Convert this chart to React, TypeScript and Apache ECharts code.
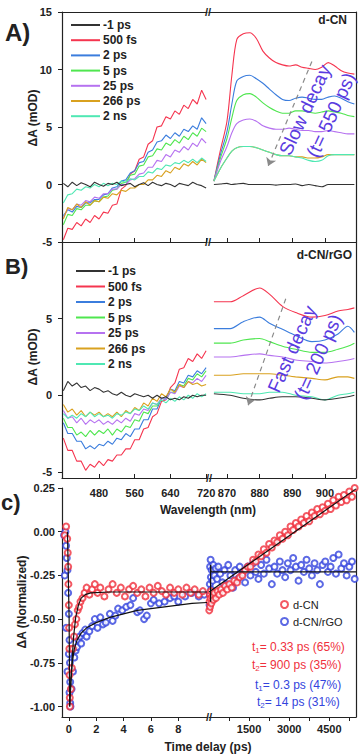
import React, { useEffect, useRef } from "react";
import * as echarts from "echarts";

const names = ["-1 ps", "500 fs", "2 ps", "5 ps", "25 ps", "266 ps", "2 ns"];
const colors = ["#333333", "#f5354f", "#3b7ddd", "#4fe64f", "#b672f0", "#d9a11f", "#4fe8b3"];

const wlLeft = [400,410,420,430,440,450,460,470,480,490,500,510,520,530,540,550,560,570,580,590,600,610,620,630,640,650,660,670,680,690,700,710,720];
const aWlRight = [866,868,870,871.5,873,875,877,879,881,883,885,887,889,891,893,895,897,899,901,903,905,907,909];
const bWlRight = [866,871,875,880,883,887,891,896,900,904,907,909];

// Panel A (d-CN), left part
const aBlackL = [0.1,-0.2,0.2,-0.1,0.15,0.0,-0.2,0.2,0.0,-0.15,0.1,0.0,0.2,-0.1,0.0,0.1,-0.2,0.0,0.15,-0.1,0.2,0.0,-0.1,0.1,0.0,-0.2,0.1,0.0,-0.1,0.2,0.0,-0.1,-0.3];
const aRedL = [-4.8,-3.8,-3.9,-3.3,-3.6,-3.0,-3.3,-2.7,-3.0,-2.4,-2.5,-1.8,-1.7,-0.4,-0.1,0.9,1.2,2.2,2.4,3.5,3.8,5.0,5.1,5.9,5.7,6.4,6.1,6.9,6.6,7.4,7.0,8.2,7.4];
const aBlueL = [-2.7,-2.2,-2.4,-1.9,-2.0,-1.6,-1.6,-1.3,-1.3,-0.9,-0.8,-0.3,-0.2,0.3,0.4,1.0,1.2,1.9,2.0,2.8,3.0,3.7,3.8,4.3,4.0,4.5,4.2,4.8,4.6,5.1,4.8,5.8,5.3];
const aGreenL = [-3.5,-2.6,-2.7,-2.1,-2.2,-1.8,-1.8,-1.4,-1.5,-1.1,-1.0,-0.5,-0.4,0.1,0.2,0.8,0.9,1.6,1.7,2.4,2.5,3.1,3.0,3.6,3.4,3.9,3.6,4.2,3.9,4.5,4.2,4.9,4.6];
const aPurpleL = [-2.9,-2.1,-2.2,-1.7,-1.8,-1.4,-1.5,-1.1,-1.2,-0.8,-0.8,-0.4,-0.4,0.0,0.0,0.4,0.5,0.9,1.0,1.5,1.5,2.1,2.0,2.6,2.4,3.0,2.8,3.3,3.0,3.6,3.3,4.0,3.6];
const aOrangeL = [-3.0,-2.0,-2.2,-1.7,-2.0,-1.5,-1.8,-1.4,-1.5,-1.1,-1.2,-0.8,-0.9,-0.5,-0.6,-0.3,-0.3,0.0,0.0,0.4,0.4,0.8,0.7,1.2,1.0,1.5,1.3,1.8,1.6,2.0,1.7,2.2,1.9];
const aCyanL = [-1.6,-0.9,-0.8,-0.4,-0.5,-0.2,-0.3,0.0,-0.2,0.1,-0.1,0.1,0.0,0.3,0.2,0.5,0.4,0.7,0.7,1.1,1.0,1.4,1.3,1.7,1.6,1.9,1.8,2.1,1.9,2.2,1.9,2.3,2.0];

// Panel A right part
const aBlackR = [0.0,0.05,0.1,0.0,0.05,0.1,0.0,0.0,0.0,0.0,-0.05,0.0,0.0,0.05,-0.1,0.0,-0.1,-0.2,0.0,0.0,0.0,0.0,0.0];
const aRedR = [0.3,3.0,5.5,9.5,12.6,13.1,13.2,12.7,11.6,11.0,10.6,10.4,10.3,10.4,10.2,10.1,10.0,10.2,10.6,10.3,9.9,9.7,9.6];
const aBlueR = [0.3,2.6,4.6,7.0,9.0,9.4,9.5,9.2,8.8,8.3,7.8,7.4,7.3,7.5,7.6,7.5,7.4,7.4,7.6,7.7,7.5,7.2,7.0];
const aGreenR = [0.3,2.3,4.0,5.8,7.3,7.8,7.9,7.6,7.1,6.7,6.4,6.2,6.2,6.4,6.4,6.3,6.2,6.3,6.4,6.3,6.2,6.0,5.9];
const aPurpleR = [0.3,2.0,3.3,4.5,5.3,5.6,5.7,5.5,5.1,4.9,4.8,4.8,4.9,4.8,4.7,4.7,4.6,4.6,4.7,4.6,4.5,4.4,4.4];
const aOrangeR = [0.3,1.4,2.3,2.9,3.2,3.3,3.3,3.2,3.0,2.8,2.6,2.5,2.5,2.4,2.4,2.3,2.3,2.4,2.6,2.6,2.6,2.6,2.6];
const aCyanR = [0.3,1.4,2.3,2.9,3.2,3.3,3.3,3.2,3.0,2.8,2.6,2.5,2.5,2.4,2.3,2.1,2.0,2.1,2.5,2.6,2.6,2.6,2.6];

// Panel B (d-CN/rGO), left part
const bBlackL = [0.3,0.9,0.6,0.8,0.5,0.6,0.3,0.5,0.4,0.2,0.3,0.1,0.0,0.2,0.0,-0.1,0.1,0.0,-0.1,0.0,-0.2,0.0,-0.2,-0.1,-0.3,-0.2,-0.3,-0.1,-0.2,0.0,-0.1,0.0,0.0];
const bRedL = [-2.8,-3.6,-3.6,-4.3,-4.3,-4.9,-4.5,-4.7,-4.3,-4.6,-4.2,-4.3,-3.9,-3.9,-3.5,-3.5,-2.9,-2.9,-2.2,-2.1,-1.4,-1.2,-0.4,-0.3,0.5,0.8,1.7,1.8,2.4,2.2,2.7,2.4,2.9];
const bBlueL = [-1.8,-2.5,-2.5,-3.0,-3.0,-3.5,-3.3,-3.5,-3.2,-3.3,-3.0,-3.2,-2.8,-2.9,-2.5,-2.7,-2.2,-2.2,-1.6,-1.6,-0.9,-0.9,-0.2,-0.2,0.4,0.3,0.9,0.8,1.3,1.2,1.6,1.4,1.8];
const bGreenL = [-1.5,-2.1,-2.1,-2.6,-2.4,-2.7,-2.3,-2.6,-2.3,-2.5,-2.2,-2.6,-2.2,-2.4,-2.0,-2.1,-1.6,-1.7,-1.1,-1.2,-0.7,-0.7,-0.2,-0.3,0.2,0.2,0.7,0.6,1.1,1.0,1.4,1.2,1.6];
const bPurpleL = [-1.0,-1.5,-1.4,-1.8,-1.5,-1.9,-1.6,-1.8,-1.6,-1.9,-1.7,-1.9,-1.6,-1.8,-1.5,-1.7,-1.2,-1.3,-0.9,-1.0,-0.5,-0.6,-0.2,-0.3,0.2,0.1,0.6,0.5,0.9,0.8,1.1,0.9,1.3];
const bOrangeL = [-0.6,-1.1,-0.9,-1.3,-1.0,-1.4,-1.1,-1.3,-1.1,-1.4,-1.2,-1.4,-1.1,-1.4,-1.0,-1.2,-0.8,-1.0,-0.5,-0.7,-0.2,-0.4,0.1,-0.1,0.4,0.2,0.7,0.5,0.9,0.7,0.8,0.6,0.7];
const bCyanL = [-1.2,-1.5,-1.3,-1.5,-1.2,-1.4,-1.1,-1.4,-1.2,-1.4,-1.3,-1.5,-1.2,-1.3,-1.1,-1.2,-0.9,-1.0,-0.7,-0.9,-0.5,-0.6,-0.3,-0.5,-0.2,-0.4,-0.1,-0.3,0.0,-0.2,0.1,-0.1,0.1];

// Panel B right part
const bBlackR = [0.1,0.0,-0.2,-0.3,-0.2,-0.1,-0.1,-0.2,-0.3,-0.2,-0.1,0.0];
const bRedR = [6.1,6.1,6.5,7.0,6.6,5.8,5.4,5.1,5.2,5.5,5.6,5.7];
const bBlueR = [4.35,4.35,4.8,5.1,4.7,4.3,3.9,3.5,3.6,4.0,4.5,4.1];
const bGreenR = [3.4,3.4,3.6,3.7,3.5,3.2,3.0,2.8,2.8,3.0,3.2,3.4];
const bPurpleR = [2.5,2.5,2.6,2.7,2.6,2.5,2.3,2.2,2.1,2.2,2.3,2.4];
const bOrangeR = [1.3,1.3,1.4,1.4,1.4,1.3,1.2,1.1,1.0,1.2,1.2,1.1];
const bCyanR = [0.2,0.2,0.1,0.1,0.2,0.2,0.0,-0.1,-0.3,0.0,0.1,0.2];

// Panel C kinetics: [time (ps), normalized dA]
const cRedLeft = [[-0.3,-0.02],[-0.2,0.03],[-0.12,-0.04],[-0.08,-0.12],[-0.05,-0.2],[-0.03,-0.3],[0.0,-0.42],[0.02,-0.55],[0.04,-0.67],[0.05,-0.82],[0.07,-0.95],[0.08,-1.0],[0.15,-0.9],[0.22,-0.78],[0.3,-0.67],[0.38,-0.6],[0.45,-0.53],[0.55,-0.5],[0.65,-0.45],[0.75,-0.43],[0.85,-0.4],[1.0,-0.38],[1.15,-0.35],[1.3,-0.32],[1.5,-0.36],[1.7,-0.33],[1.9,-0.3],[2.1,-0.35],[2.3,-0.32],[2.6,-0.37],[2.9,-0.33],[3.2,-0.3],[3.5,-0.35],[3.8,-0.32],[4.1,-0.37],[4.4,-0.33],[4.7,-0.31],[5.0,-0.35],[5.3,-0.33],[5.6,-0.37],[5.9,-0.32],[6.2,-0.35],[6.5,-0.31],[6.8,-0.34],[7.1,-0.36],[7.4,-0.32],[7.7,-0.35],[8.0,-0.33],[8.3,-0.36],[8.6,-0.32],[8.9,-0.35],[9.2,-0.33],[9.5,-0.36],[9.8,-0.34]];
const cBlueLeft = [[-0.35,-0.02],[-0.25,0.0],[-0.2,-0.08],[-0.15,-0.15],[-0.3,-0.25],[-0.1,-0.22],[-0.05,-0.35],[0.0,-0.47],[-0.2,-0.55],[0.05,-0.62],[0.0,-0.7],[0.08,-0.75],[-0.1,-0.8],[0.1,-0.86],[0.05,-0.92],[0.1,-0.98],[0.12,-1.0],[0.2,-0.9],[0.3,-0.8],[0.4,-0.72],[0.5,-0.68],[0.6,-0.66],[0.7,-0.62],[0.8,-0.6],[0.9,-0.64],[1.0,-0.58],[1.2,-0.56],[1.3,-0.6],[1.5,-0.57],[1.7,-0.54],[1.9,-0.5],[2.1,-0.55],[2.3,-0.49],[2.5,-0.53],[2.7,-0.52],[3.0,-0.47],[3.2,-0.51],[3.4,-0.48],[3.6,-0.44],[3.9,-0.45],[4.2,-0.43],[4.5,-0.42],[4.7,-0.38],[5.0,-0.46],[5.2,-0.45],[5.5,-0.5],[5.7,-0.48],[6.0,-0.41],[6.2,-0.39],[6.6,-0.41],[7.0,-0.4],[7.4,-0.38],[7.7,-0.37],[8.0,-0.4],[8.5,-0.37],[9.0,-0.35],[9.5,-0.37],[9.9,-0.36]];
const cRedRight = [[10,-0.45],[20,-0.4],[30,-0.36],[40,-0.43],[55,-0.38],[70,-0.34],[90,-0.41],[120,-0.37],[160,-0.39],[200,-0.35],[260,-0.38],[320,-0.34],[380,-0.36],[450,-0.33],[520,-0.35],[600,-0.31],[680,-0.33],[760,-0.3],[850,-0.32],[950,-0.28],[1050,-0.29],[1150,-0.26],[1250,-0.25],[1350,-0.22],[1450,-0.2],[1550,-0.2],[1650,-0.16],[1750,-0.17],[1850,-0.13],[1950,-0.14],[2050,-0.1],[2150,-0.12],[2250,-0.07],[2350,-0.09],[2450,-0.05],[2550,-0.06],[2650,-0.02],[2750,-0.04],[2850,0.0],[2950,-0.02],[3050,0.03],[3150,0.01],[3250,0.05],[3350,0.03],[3450,0.07],[3550,0.05],[3650,0.09],[3750,0.06],[3850,0.11],[3950,0.09],[4050,0.13],[4150,0.1],[4250,0.14],[4350,0.12],[4450,0.16],[4550,0.13],[4650,0.18],[4750,0.15],[4850,0.2],[4950,0.17],[5050,0.21],[5150,0.18],[5250,0.23],[5350,0.2],[5450,0.25]];
const cBlueRight = [[20,-0.42],[30,-0.3],[40,-0.2],[50,-0.36],[60,-0.16],[70,-0.26],[80,-0.33],[100,-0.22],[130,-0.28],[160,-0.19],[200,-0.25],[250,-0.21],[300,-0.27],[350,-0.2],[420,-0.24],[500,-0.29],[580,-0.22],[650,-0.3],[720,-0.19],[800,-0.25],[900,-0.32],[980,-0.22],[1080,-0.27],[1150,-0.2],[1250,-0.24],[1350,-0.29],[1450,-0.2],[1550,-0.25],[1650,-0.18],[1750,-0.23],[1850,-0.27],[1950,-0.19],[2050,-0.24],[2150,-0.16],[2250,-0.21],[2350,-0.3],[2450,-0.2],[2550,-0.24],[2650,-0.17],[2750,-0.22],[2850,-0.26],[2950,-0.18],[3050,-0.22],[3150,-0.15],[3250,-0.2],[3350,-0.28],[3450,-0.19],[3550,-0.23],[3650,-0.16],[3750,-0.21],[3850,-0.25],[3950,-0.18],[4050,-0.22],[4150,-0.3],[4250,-0.19],[4350,-0.17],[4450,-0.23],[4550,-0.2],[4650,-0.15],[4750,-0.24],[4850,-0.13],[4950,-0.21],[5050,-0.18],[5150,-0.25],[5250,-0.2],[5350,-0.17],[5450,-0.27]];
const cRedFitLeft = [[-0.1,0.0],[0.02,-0.5],[0.06,-1.0],[0.15,-0.86],[0.25,-0.72],[0.35,-0.6],[0.5,-0.49],[0.7,-0.42],[0.9,-0.38],[1.2,-0.36],[1.6,-0.35],[3,-0.345],[6,-0.345],[10.1,-0.345]];
const cBlueFitLeft = [[0.06,-1.0],[0.15,-0.85],[0.25,-0.75],[0.4,-0.67],[0.6,-0.62],[0.9,-0.58],[1.3,-0.55],[2,-0.52],[3,-0.49],[4,-0.47],[5,-0.45],[6,-0.44],[7,-0.43],[8,-0.42],[9,-0.41],[10.1,-0.405]];
const cRedFitRight = [[0,-0.345],[5500,0.245]];
const cBlueFitRight = [[60,-0.4],[60,-0.19],[80,-0.23],[5500,-0.23]];

const aLeft = [aBlackL, aRedL, aBlueL, aGreenL, aPurpleL, aOrangeL, aCyanL];
const aRight = [aBlackR, aRedR, aBlueR, aGreenR, aPurpleR, aOrangeR, aCyanR];
const bLeft = [bBlackL, bRedL, bBlueL, bGreenL, bPurpleL, bOrangeL, bCyanL];
const bRight = [bBlackR, bRedR, bBlueR, bGreenR, bPurpleR, bOrangeR, bCyanR];

const FONT = "Liberation Sans, Arial, sans-serif";
const AX = "#222222";
const RED = "#f0303c";
const BLUE = "#3344dd";
const ANNO = "#5a3be0";

function spectra(wl: number[], sets: number[][], xi: number, yi: number, smooth: number | boolean) {
  return sets.map((vals, k) => ({
    type: "line",
    name: names[k],
    xAxisIndex: xi,
    yAxisIndex: yi,
    data: wl.map((w, i) => [w, vals[i]]),
    symbol: "none",
    smooth,
    lineStyle: { width: 1.1, color: colors[k] },
    itemStyle: { color: colors[k] },
    z: k === 0 ? 3 : 2,
  }));
}

function xAx(grid: number, min: number, max: number, opts: any = {}) {
  return {
    type: "value",
    gridIndex: grid,
    min,
    max,
    position: opts.position || "bottom",
    splitLine: { show: false },
    axisLine: { show: true, onZero: false, lineStyle: { color: AX, width: 1.2 } },
    axisTick: opts.ticks
      ? { show: true, inside: !!opts.inside, length: 4, customValues: opts.ticks, lineStyle: { color: AX } }
      : { show: false },
    axisLabel: opts.labels
      ? {
          show: true,
          customValues: opts.labels,
          fontSize: 11,
          fontWeight: "bold",
          color: AX,
          fontFamily: FONT,
          margin: opts.margin || 8,
          formatter: (v: number) => String(v),
        }
      : { show: false },
  };
}

function yAx(grid: number, min: number, max: number, opts: any = {}) {
  return {
    type: "value",
    gridIndex: grid,
    min,
    max,
    position: opts.position || "left",
    splitLine: { show: false },
    axisLine: { show: true, onZero: false, lineStyle: { color: AX, width: 1.2 } },
    axisTick: opts.labels
      ? { show: true, inside: false, length: 4, customValues: opts.labels, lineStyle: { color: AX } }
      : { show: false },
    axisLabel: opts.labels
      ? {
          show: true,
          customValues: opts.labels,
          fontSize: 11,
          fontWeight: "bold",
          color: AX,
          fontFamily: FONT,
          margin: opts.margin || 8,
          formatter: opts.formatter || ((v: number) => String(v)),
        }
      : { show: false },
  };
}

function txt(text: string, x: number, y: number, o: any = {}) {
  return {
    type: "text",
    x,
    y,
    rotation: o.rotation || 0,
    z: 100,
    style: {
      text,
      fontSize: o.fontSize || 12,
      fontWeight: o.fontWeight || "bold",
      fontFamily: FONT,
      fill: o.fill || AX,
      align: o.align || "center",
      verticalAlign: o.verticalAlign || "middle",
      rich: o.rich,
    },
  };
}

const tauRich = (c: string) => ({
  s: { fontSize: 8, fill: c, fontFamily: FONT, verticalAlign: "bottom", padding: [7, 0, 0, 0] },
});

export default function App() {
  const ref = useRef<HTMLDivElement>(null);
  useEffect(() => {
    document.body.style.margin = "0";
    if (!ref.current) return;
    const chart = echarts.init(ref.current, undefined, { renderer: "svg" });
    const series: any[] = [
      ...spectra(wlLeft, aLeft, 0, 0, false),
      ...spectra(aWlRight, aRight, 1, 1, 0.3),
      ...spectra(wlLeft, bLeft, 4, 2, false),
      ...spectra(bWlRight, bRight, 5, 3, 0.3),
    ];
    series.push({
      type: "line",
      xAxisIndex: 1,
      yAxisIndex: 1,
      data: [],
      silent: true,
      markLine: {
        silent: true,
        symbol: ["none", "arrow"],
        symbolSize: 8,
        label: { show: false },
        lineStyle: { type: [5, 4], color: "#8a8a8a", width: 1.2 },
        data: [[{ coord: [896, 10.7] }, { coord: [882.6, 1.6] }]],
      },
    });
    series.push({
      type: "line",
      xAxisIndex: 5,
      yAxisIndex: 3,
      data: [],
      silent: true,
      markLine: {
        silent: true,
        symbol: ["none", "arrow"],
        symbolSize: 8,
        label: { show: false },
        lineStyle: { type: [5, 4], color: "#8a8a8a", width: 1.2 },
        data: [[{ coord: [888, 6.3] }, { coord: [876.5, -0.65] }]],
      },
    });
    const scat = (name: string, data: number[][], xi: number, yi: number, c: string) => ({
      type: "scatter",
      name,
      xAxisIndex: xi,
      yAxisIndex: yi,
      data,
      symbol: "emptyCircle",
      symbolSize: 6,
      itemStyle: { color: c, borderColor: c, borderWidth: 1.2 },
      z: 2,
    });
    const fit = (data: number[][], xi: number, yi: number) => ({
      type: "line",
      xAxisIndex: xi,
      yAxisIndex: yi,
      data,
      symbol: "none",
      smooth: false,
      lineStyle: { color: "#111", width: 1.2 },
      z: 4,
      silent: true,
    });
    series.push(
      scat("d-CN/rGO", cBlueLeft, 6, 4, BLUE),
      scat("d-CN", cRedLeft, 6, 4, RED),
      scat("d-CN/rGO", cBlueRight, 7, 5, BLUE),
      scat("d-CN", cRedRight, 7, 5, RED),
      fit(cRedFitLeft, 6, 4),
      fit(cBlueFitLeft, 6, 4),
      fit(cRedFitRight, 7, 5),
      fit(cBlueFitRight, 7, 5)
    );

    const legendBase = {
      orient: "vertical",
      icon: "rect",
      itemWidth: 29,
      itemHeight: 2,
      selectedMode: false,
      textStyle: { fontSize: 12, fontWeight: "bold", color: AX, fontFamily: FONT, padding: [0, 0, 0, -2] },
    };

    const option: any = {
      animation: false,
      backgroundColor: "#ffffff",
      textStyle: { fontFamily: FONT },
      grid: [
        { left: 62, top: 12, width: 145, height: 230 },
        { left: 209, top: 12, width: 147, height: 230 },
        { left: 62, top: 242, width: 145, height: 236 },
        { left: 209, top: 242, width: 147, height: 236 },
        { left: 62, top: 488, width: 145, height: 229 },
        { left: 209, top: 488, width: 147, height: 229 },
      ],
      xAxis: [
        xAx(0, 397, 722, { ticks: [480, 560, 640, 720], inside: true }),
        xAx(1, 864.5, 909.5, { ticks: [870, 880, 890, 900], inside: true }),
        xAx(0, 397, 722, { position: "top" }),
        xAx(1, 864.5, 909.5, { position: "top" }),
        xAx(2, 397, 722, { ticks: [480, 560, 640, 720], labels: [480, 560, 640, 720], inside: true, margin: 9 }),
        xAx(3, 864.5, 909.5, { ticks: [870, 880, 890, 900], labels: [870, 880, 890, 900], inside: true, margin: 9 }),
        xAx(4, -0.5, 10.1, { ticks: [0, 2, 4, 6, 8], labels: [0, 2, 4, 6, 8], margin: 6 }),
        xAx(5, 0, 5500, { ticks: [750, 1500, 2250, 3000, 3750, 4500, 5250], labels: [1500, 3000, 4500], margin: 6 }),
      ],
      yAxis: [
        yAx(0, -5, 15, { labels: [-5, 0, 5, 10, 15], margin: 10 }),
        yAx(1, -5, 15, { position: "right" }),
        yAx(2, -5.4, 10, { labels: [-5, 0, 5], margin: 10 }),
        yAx(3, -5.4, 10, { position: "right" }),
        yAx(4, -1.06, 0.25, {
          labels: [0.25, 0, -0.25, -0.5, -0.75, -1],
          margin: 7,
          formatter: (v: number) => v.toFixed(2),
        }),
        yAx(5, -1.06, 0.25, { position: "right" }),
      ],
      legend: [
        { ...legendBase, data: names, left: 66, top: 14, itemGap: 3.2 },
        { ...legendBase, data: names, left: 71, top: 260, itemGap: 3.5 },
        {
          orient: "vertical",
          data: [
            { name: "d-CN", icon: "emptyCircle" },
            { name: "d-CN/rGO", icon: "emptyCircle" },
          ],
          left: 275,
          top: 594,
          itemWidth: 7,
          itemHeight: 7,
          itemGap: 6,
          selectedMode: false,
          textStyle: { fontSize: 11, color: AX, fontFamily: FONT },
        },
      ],
      graphic: [
        txt("A)", 5, 32, { fontSize: 24, align: "left" }),
        txt("B)", 5, 266, { fontSize: 22, align: "left" }),
        txt("c)", 1, 502, { fontSize: 22, align: "left" }),
        txt("d-CN", 347, 20, { align: "right" }),
        txt("d-CN/rGO", 352, 255, { align: "right" }),
        txt("ΔA (mOD)", 33, 118, { rotation: Math.PI / 2 }),
        txt("ΔA (mOD)", 33, 357, { rotation: Math.PI / 2 }),
        txt("ΔA (Normalized)", 22, 602, { rotation: Math.PI / 2 }),
        txt("Wavelength (nm)", 208, 510),
        txt("Time delay (ps)", 208, 747),
        txt("//", 208, 12, { fontSize: 11 }),
        txt("//", 208, 242, { fontSize: 11 }),
        txt("//", 209, 478, { fontSize: 11 }),
        txt("//", 209, 717, { fontSize: 11 }),
        txt("Slow decay", 305, 110, { fontSize: 19, fontWeight: "normal", fill: ANNO, rotation: (65 * Math.PI) / 180 }),
        txt("(t= 550 ps)", 331, 115, { fontSize: 19, fontWeight: "normal", fill: ANNO, rotation: (65 * Math.PI) / 180 }),
        txt("Fast decay", 292, 349, { fontSize: 19, fontWeight: "normal", fill: ANNO, rotation: (66 * Math.PI) / 180 }),
        txt("(t= 200 ps)", 318, 357, { fontSize: 19, fontWeight: "normal", fill: ANNO, rotation: (66 * Math.PI) / 180 }),
        txt("t{s|1}= 0.33 ps (65%)", 252, 647, { fontSize: 12, fontWeight: "normal", fill: RED, align: "left", rich: tauRich(RED) }),
        txt("t{s|2}= 900 ps (35%)", 252, 665, { fontSize: 12, fontWeight: "normal", fill: RED, align: "left", rich: tauRich(RED) }),
        txt("t{s|1}= 0.3 ps (47%)", 255, 685, { fontSize: 12, fontWeight: "normal", fill: BLUE, align: "left", rich: tauRich(BLUE) }),
        txt("t{s|2}= 14 ps (31%)", 257, 702, { fontSize: 12, fontWeight: "normal", fill: BLUE, align: "left", rich: tauRich(BLUE) }),
      ],
      series,
    };
    chart.setOption(option);
    return () => chart.dispose();
  }, []);
  return <div ref={ref} style={{ width: 360, height: 755 }} />;
}
